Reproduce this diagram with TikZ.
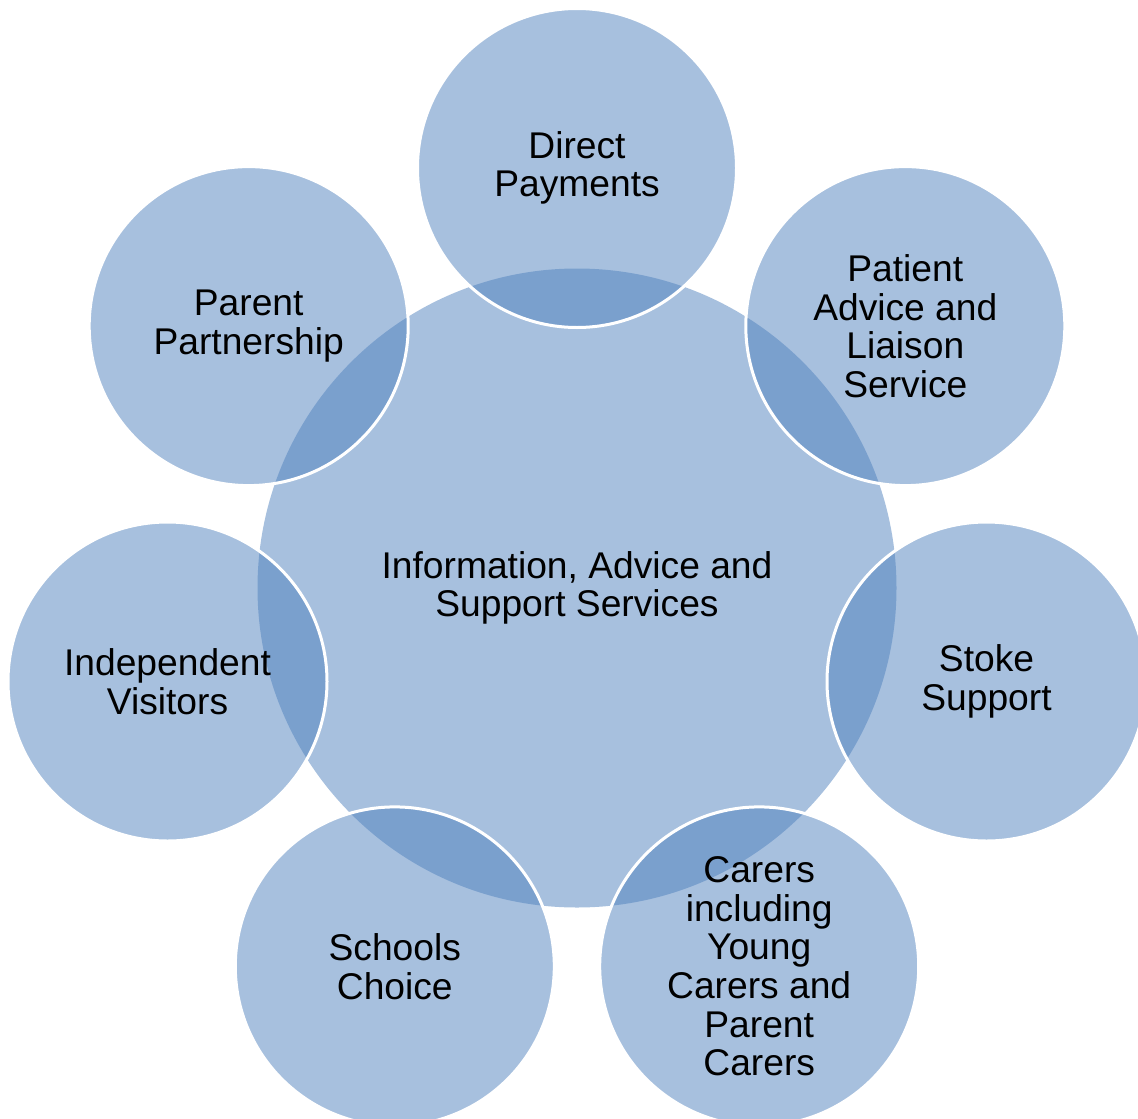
\documentclass[tikz,border=0pt]{standalone}
\usepackage{fontspec}
\setmainfont{Liberation Sans}
\definecolor{accent}{HTML}{4F81BD}
\tikzset{
  bubble/.style={circle, inner sep=0pt, fill=accent, fill opacity=0.5, text opacity=1, text=black, align=center, font=\fontsize{37.2}{38.6}\selectfont},
  hub/.style={bubble, minimum size=639pt},
  sat/.style={bubble, minimum size=319pt, draw=white, line width=3pt}
}
\begin{document}
\begin{tikzpicture}[x=1pt,y=-1pt]
\useasboundingbox (0,0) rectangle (1138,1119);
\node[hub] (hub) at (577,588) {Information, Advice and\\Support Services};
\node[sat] (dp) at (577,168) {Direct\\Payments};
\node[sat] (pa) at (905.3,326.1) {Patient\\Advice and\\Liaison\\Service};
\node[sat] (ss) at (986.5,681.5) {Stoke\\Support};
\node[sat] (cr) at (759.2,966.4) {Carers\\including\\Young\\Carers and\\Parent\\Carers};
\node[sat] (sc) at (394.8,966.4) {Schools\\Choice};
\node[sat] (iv) at (167.5,681.5) {Independent\\Visitors};
\node[sat] (pp) at (248.7,326.1) {Parent\\Partnership};
\end{tikzpicture}
\end{document}
